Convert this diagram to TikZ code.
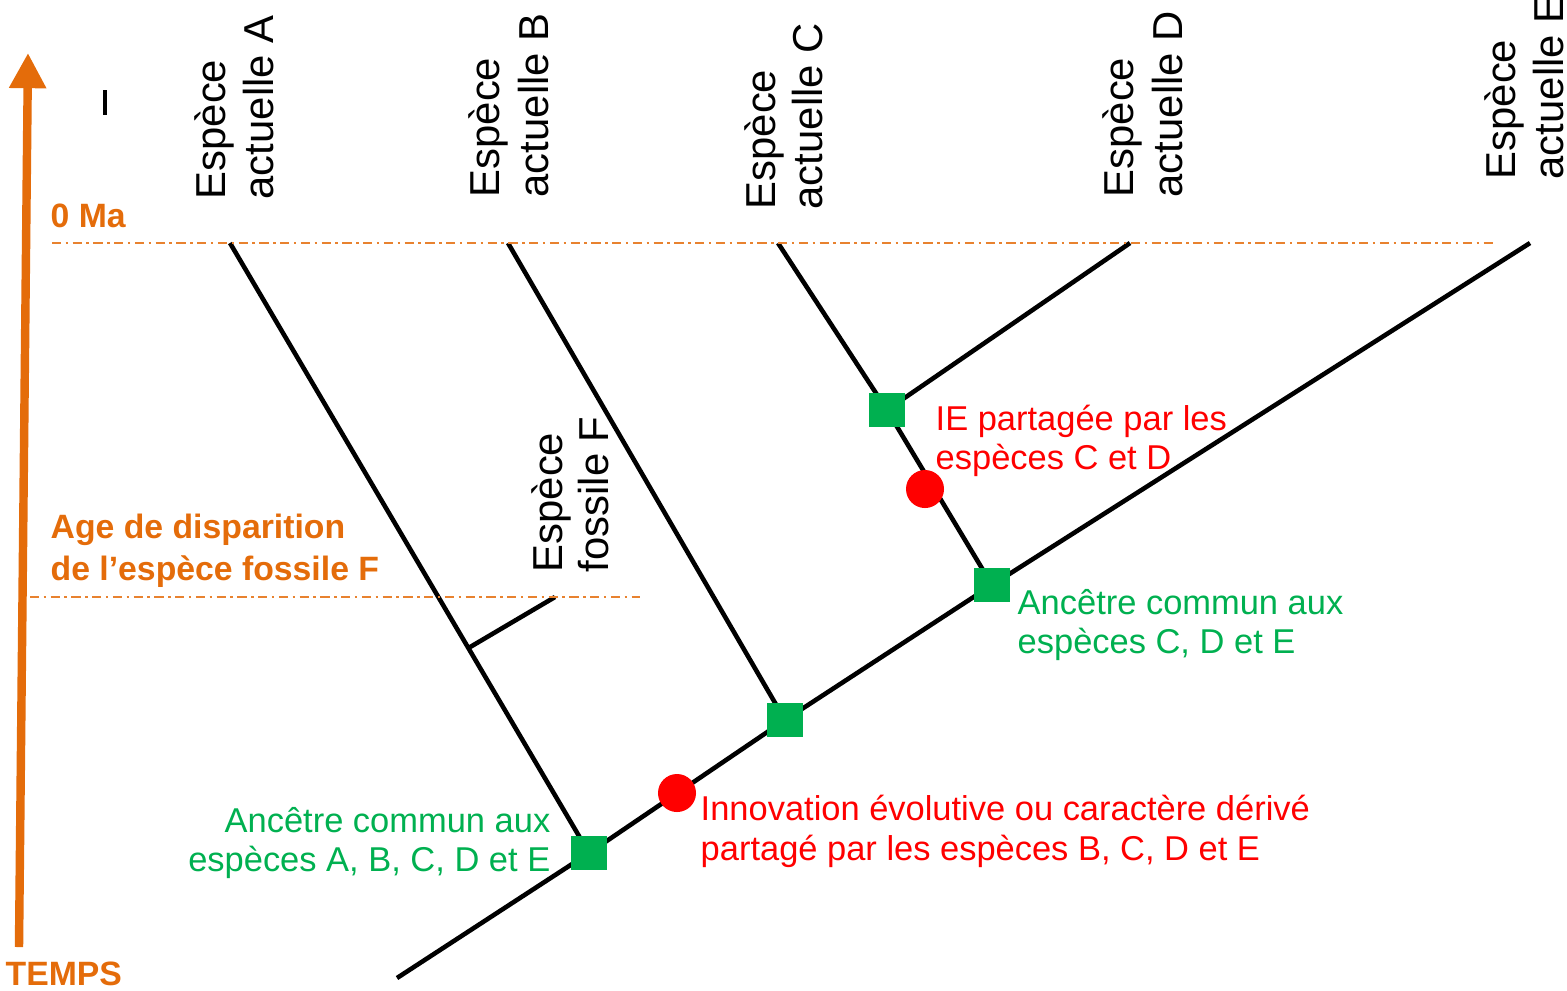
\documentclass[tikz,border=0pt]{standalone}
\usepackage{fontspec}
\setmainfont{Liberation Sans}
\usetikzlibrary{arrows.meta,backgrounds,calc}
\definecolor{orgA}{HTML}{E46C0A}
\definecolor{grnA}{HTML}{00B050}
\definecolor{redA}{HTML}{FF0000}
\begin{document}
\begin{tikzpicture}[x=0.01cm,y=-0.01cm,
  branch/.style={line width=1.3pt, black},
  timeline/.style={orgA!85, line width=0.6pt, dash pattern=on 2.6pt off 1.3pt on 0.7pt off 1.3pt},
  sqnode/.style={fill=grnA, minimum width=0.36cm, minimum height=0.34cm, inner sep=0, draw=none},
  dotnode/.style={fill=redA, circle, minimum size=0.38cm, inner sep=0, draw=none},
  splab/.style={rotate=90, anchor=base west, inner sep=0, font=\fontsize{11.9pt}{13.7pt}\selectfont},
  redlab/.style={anchor=base west, inner sep=0, text=redA, font=\fontsize{9.8pt}{11pt}\selectfont},
  grnlab/.style={anchor=base west, inner sep=0, text=grnA, font=\fontsize{9.8pt}{11pt}\selectfont},
  orglab/.style={anchor=base west, inner sep=0, text=orgA, font=\fontsize{9.6pt}{11pt}\selectfont\bfseries}]
\useasboundingbox (0,0) rectangle (1567,990);

% time axis
\coordinate (tbot) at (19,947);
\coordinate (ttop) at (28,53);
\draw[orgA, line width=2.4pt, -{Triangle[length=10pt,width=10pt]}] (tbot) -- (ttop);
\coordinate (mk1) at (105,90);
\coordinate (mk2) at (105,115);
\draw[line width=1.4pt] (mk1) -- (mk2);

% time lines
\coordinate (t0a) at (52,243);
\coordinate (t0b) at (1495,243);
\coordinate (tFa) at (30,597);
\coordinate (tFb) at (640,597);
\draw[timeline] (t0a) -- (t0b);
\draw[timeline] (tFa) -- (tFb);

% tips
\coordinate (root) at (397,978);
\coordinate (tipA) at (230,243);
\coordinate (tipB) at (508,243);
\coordinate (tipC) at (778,243);
\coordinate (tipD) at (1130,243);
\coordinate (tipE) at (1530,243);
\coordinate (tipF) at (555,597);

% nodes
\node[sqnode] (sqA) at (589,853) {};
\node[dotnode] (ie1) at (677,793) {};
\node[sqnode] (sqB) at (785,720) {};
\node[sqnode] (sqCDE) at (992,585) {};
\node[sqnode] (sqCD) at (887,410) {};
\node[dotnode] (ie2) at (925,489) {};
\coordinate (jF) at ($(tipA)!0.664!(sqA.center)$);

\begin{scope}[on background layer]
\draw[branch] (root) -- (sqA.center) -- (sqB.center) -- (sqCDE.center) -- (tipE);
\draw[branch] (tipA) -- (sqA.center);
\draw[branch] (jF) -- (tipF);
\draw[branch] (tipB) -- (sqB.center);
\draw[branch] (tipC) -- (sqCD.center) -- (sqCDE.center);
\draw[branch] (sqCD.center) -- (tipD);
\end{scope}

% species labels
\node[splab] (lA1) at (225,200) {Espèce};
\node[splab] (lA2) at (273,200) {actuelle A};
\node[splab] (lB1) at (499,198) {Espèce};
\node[splab] (lB2) at (548,198) {actuelle B};
\node[splab] (lC1) at (775,210) {Espèce};
\node[splab] (lC2) at (822,210) {actuelle C};
\node[splab] (lD1) at (1133,198) {Espèce};
\node[splab] (lD2) at (1182,198) {actuelle D};
\node[splab] (lE1) at (1515,180) {Espèce};
\node[splab] (lE2) at (1563,180) {actuelle E};
\node[splab] (lF1) at (562,573) {Espèce};
\node[splab] (lF2) at (608,573) {fossile F};

% orange labels
\node[orglab] (oMa) at (50,227) {0 Ma};
\node[orglab] (oTemps) at (5,985) {TEMPS};
\node[orglab] (oAge1) at (50,538) {Age de disparition};
\node[orglab] (oAge2) at (50,580) {de l’espèce fossile F};

% annotations
\node[redlab] (r1a) at (935,430) {IE partagée par les};
\node[redlab] (r1b) at (935,469) {espèces C et D};
\node[grnlab] (g1a) at (1017,614) {Ancêtre commun aux};
\node[grnlab] (g1b) at (1017,653) {espèces C, D et E};
\node[grnlab, anchor=base east] (g2a) at (551,832) {Ancêtre commun aux};
\node[grnlab, anchor=base east] (g2b) at (551,871) {espèces A, B, C, D et E};
\node[redlab] (r2a) at (700,820) {Innovation évolutive ou caractère dérivé};
\node[redlab] (r2b) at (700,860) {partagé par les espèces B, C, D et E};
\end{tikzpicture}
\end{document}
